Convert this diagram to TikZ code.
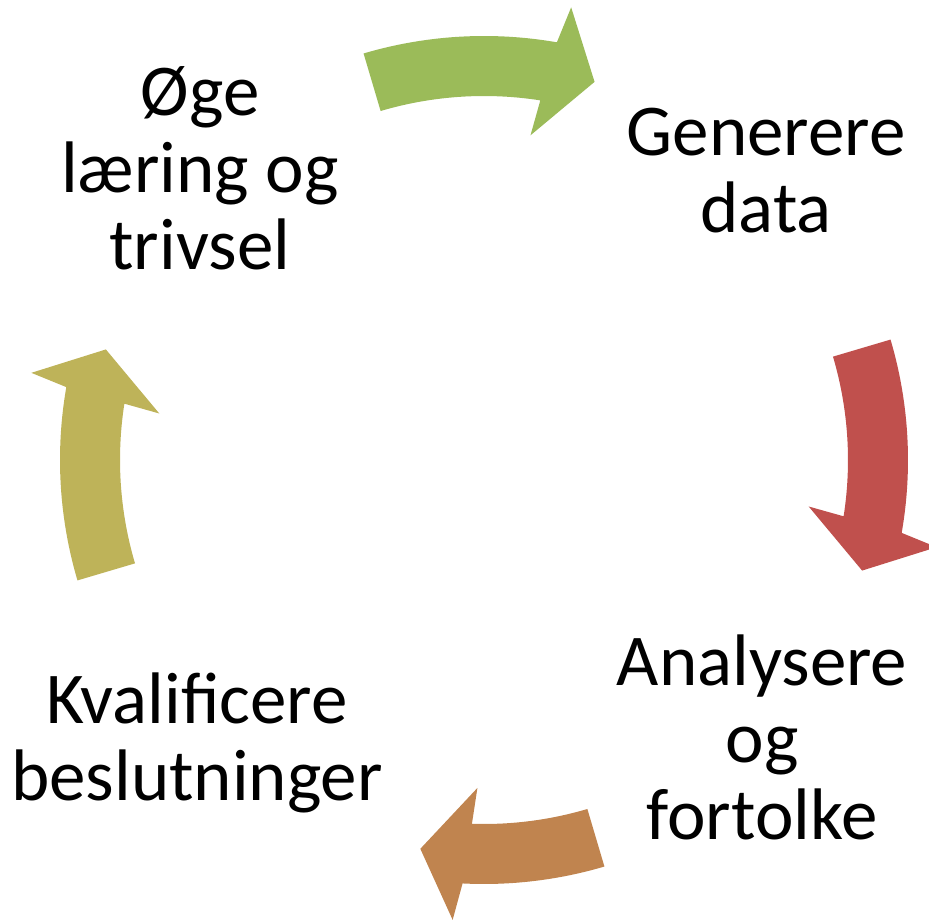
\documentclass[tikz,border=0pt]{standalone}
\usepackage{fontspec}
\setmainfont{Carlito}
\usetikzlibrary{positioning}
\definecolor{gen-color}{HTML}{9BBB59}
\definecolor{ana-color}{HTML}{C0504D}
\definecolor{kval-color}{HTML}{C0844F}
\definecolor{oge-color}{HTML}{BEB359}
\tikzset{
  step-label/.style={align=center, inner sep=0, font=\fontsize{73}{77}\selectfont},
  cycle-arrow/.style={fill=#1, draw=none}
}
\begin{document}
\begin{tikzpicture}[x=1pt, y=1pt]
    \useasboundingbox (-484,-461) rectangle (445,460);
    % steps of the cycle
    \node[step-label] (oge) at (-284,292) {Øge\\læring og\\trivsel};
    \node[step-label] (gen) at (282,289) {Generere\\data};
    \node[step-label] (ana) at (278,-277) {Analysere\\og\\fortolke};
    \node[step-label] (kval) at (-287,-283) {Kvalificere\\beslutninger};
    % curved block arrows, clockwise (\h: head pulled back)
    \foreach \a/\h/\c in {90/0/gen-color, 0/0/ana-color, -90/7/kval-color, 180/0/oge-color} {
      \path[cycle-arrow=\c] ({\a+16.5}:424)
        arc[start angle=\a+16.5, end angle=\a+\h-9.9, radius=424]
        -- ({\a+\h-10.9}:461) -- ({\a+\h-16.3}:394) -- ({\a+\h-8.15}:328) -- ({\a+\h-8.9}:364)
        arc[start angle=\a+\h-8.9, end angle=\a+16.5, radius=364] -- cycle;
    }
\end{tikzpicture}
\end{document}
